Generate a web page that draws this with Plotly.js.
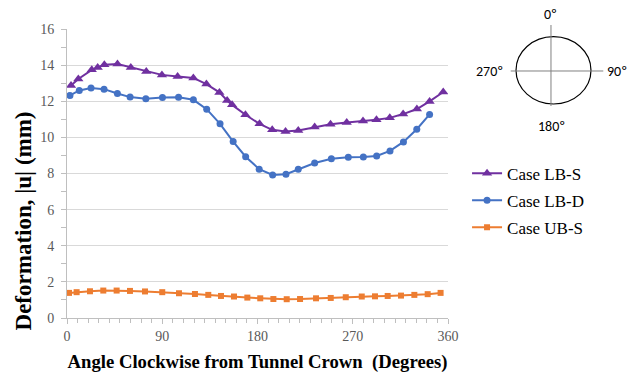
<!DOCTYPE html>
<html>
<head>
<meta charset="utf-8">
<script src="https://cdn.plot.ly/plotly-3.0.1.min.js"></script>
<style>html,body{margin:0;padding:0;background:#fff}#chart{width:634px;height:377px}</style>
</head>
<body>
<div id="chart"></div>
<script>
// Case LB-S
var angleLBS = [3.8, 10.7, 23.4, 29, 35.3, 47.7, 60.3, 74.9, 89.7, 104.5, 119.4, 131.7, 144, 151.3, 156, 168.6, 181.9, 193.9, 206.5, 218.5, 234, 249, 264.3, 279.7, 292.4, 305, 317.6, 330.6, 342.6, 355.5];
var defLBS = [12.87, 13.23, 13.74, 13.87, 14.02, 14.06, 13.87, 13.65, 13.46, 13.37, 13.29, 12.95, 12.49, 12.04, 11.8, 11.25, 10.75, 10.42, 10.32, 10.38, 10.57, 10.73, 10.82, 10.9, 10.97, 11.08, 11.29, 11.57, 11.99, 12.51];
// Case LB-D
var angleLBD = [2.8, 11.6, 22.7, 35, 47.6, 59.6, 74.5, 90.2, 105.4, 119.4, 132, 144.6, 157, 168.8, 181.6, 194.3, 206.9, 218.5, 234, 249.8, 265.8, 280, 292.6, 305.2, 317.9, 330.5, 342.6];
var defLBD = [12.32, 12.6, 12.73, 12.67, 12.43, 12.23, 12.14, 12.21, 12.22, 12.08, 11.56, 10.75, 9.77, 8.93, 8.24, 7.92, 7.96, 8.24, 8.58, 8.82, 8.9, 8.92, 8.97, 9.25, 9.75, 10.45, 11.27];
// Case UB-S
var angleUBS = [1.9, 9.1, 21.7, 34.3, 46.9, 59.5, 73.7, 90, 105.8, 120.9, 133.5, 145.5, 157.8, 170.4, 182.6, 195, 207.6, 220.2, 235.3, 249.2, 263.4, 278.5, 291, 303, 315.6, 328.2, 340.8, 353];
var defUBS = [1.39, 1.43, 1.48, 1.52, 1.52, 1.5, 1.47, 1.43, 1.37, 1.33, 1.28, 1.22, 1.19, 1.13, 1.09, 1.05, 1.04, 1.05, 1.09, 1.11, 1.15, 1.19, 1.2, 1.22, 1.24, 1.28, 1.32, 1.39];

var xTicks = [0, 90, 180, 270, 360];
var yTicks = [0, 2, 4, 6, 8, 10, 12, 14, 16];
var dirLabels = ['0º', '90º', '180º', '270º'];
var yTitle = 'Deformation, |u| (mm)';
var xTitle = 'Angle Clockwise from Tunnel Crown  (Degrees)';

var serif = 'Liberation Serif, Times New Roman, serif';
var sans = 'Carlito, Liberation Sans, Arial, sans-serif';

var traces = [
  {x: angleLBS, y: defLBS, name: 'Case LB-S', legendgroup: 'a', mode: 'lines+markers',
   line: {color: '#7030A0', width: 2}, marker: {symbol: 'triangle-up', size: 9, color: '#7030A0'}},
  {x: angleLBD, y: defLBD, name: 'Case LB-D', legendgroup: 'b', mode: 'lines+markers',
   line: {color: '#4472C4', width: 2}, marker: {symbol: 'circle', size: 7, color: '#4472C4'}},
  {x: angleUBS, y: defUBS, name: 'Case UB-S', legendgroup: 'c', mode: 'lines+markers',
   line: {color: '#ED7D31', width: 2}, marker: {symbol: 'square', size: 6, color: '#ED7D31'}}
];

function dirLabel(t, x, y) {
  return {text: t, xref: 'paper', yref: 'paper', x: x, y: y, xanchor: 'center', yanchor: 'middle',
          showarrow: false, font: {family: sans, size: 14, color: '#000'}};
}

var layout = {
  width: 634, height: 377,
  margin: {l: 67, r: 186, t: 29, b: 59},
  paper_bgcolor: '#fff', plot_bgcolor: '#fff',
  showlegend: true,
  legend: {x: 1.05, y: 0.562, xanchor: 'left', yanchor: 'top', bgcolor: 'rgba(0,0,0,0)',
           font: {family: serif, size: 17, color: '#000'}, tracegroupgap: 2},
  xaxis: {
    range: [0, 360], tickvals: xTicks, ticktext: xTicks.map(String),
    showgrid: false, zeroline: false, showline: true, linecolor: '#bfbfbf', linewidth: 1,
    ticks: 'outside', ticklen: 5, tickcolor: '#bfbfbf',
    minor: {dtick: 10, ticks: 'outside', ticklen: 4, tickcolor: '#bfbfbf'},
    tickfont: {family: serif, size: 14, color: '#595959'},
    title: {text: xTitle, font: {family: serif, size: 18.7, color: '#000', weight: 'bold'}, standoff: 12}
  },
  yaxis: {
    range: [0, 16], tickvals: yTicks, ticktext: yTicks.map(String),
    showgrid: true, gridcolor: '#d9d9d9', gridwidth: 1, zeroline: false,
    showline: true, linecolor: '#bfbfbf', linewidth: 1,
    ticks: 'outside', ticklen: 5, tickcolor: '#bfbfbf', ticklabelstandoff: 4,
    minor: {dtick: 1, ticks: 'outside', ticklen: 5, tickcolor: '#bfbfbf', showgrid: false},
    tickfont: {family: serif, size: 14, color: '#595959'}
  },
  shapes: [
    {type: 'circle', xref: 'paper', yref: 'paper', x0: 1.1785, x1: 1.3753, y0: 0.7405, y1: 0.9734,
     line: {color: '#000', width: 1.2}},
    {type: 'line', xref: 'paper', yref: 'paper', x0: 1.2703, x1: 1.2703, y0: 0.7336, y1: 1.0138,
     line: {color: '#808080', width: 1}},
    {type: 'line', xref: 'paper', yref: 'paper', x0: 1.1646, x1: 1.4076, y0: 0.8547, y1: 0.8547,
     line: {color: '#808080', width: 1}}
  ],
  annotations: [
    dirLabel(dirLabels[0], 1.2685, 1.0519),
    dirLabel(dirLabels[1], 1.4428, 0.8522),
    dirLabel(dirLabels[2], 1.2722, 0.6619),
    dirLabel(dirLabels[3], 1.1102, 0.8522),
    {text: yTitle, xref: 'paper', yref: 'paper', x: -0.114, y: 0.336, xanchor: 'center', yanchor: 'middle',
     textangle: -90, showarrow: false, font: {family: serif, size: 23, color: '#000', weight: 'bold'}}
  ]
};

Plotly.newPlot('chart', traces, layout, {displayModeBar: false, staticPlot: true});
</script>
</body>
</html>
